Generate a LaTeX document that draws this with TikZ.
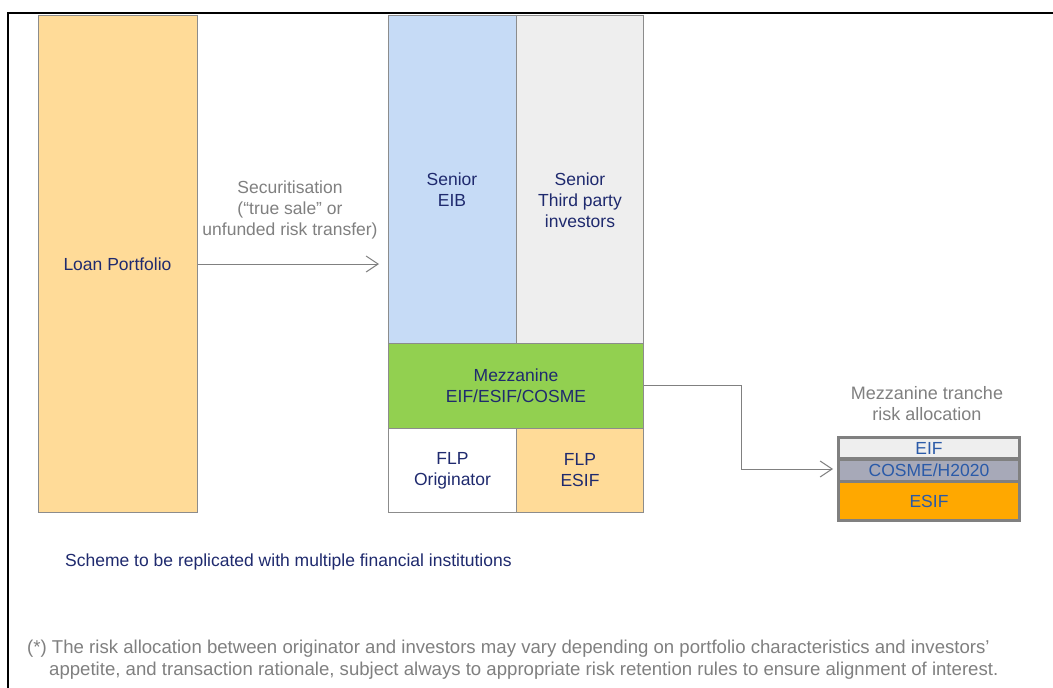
\documentclass[tikz,border=0pt]{standalone}
\usepackage{fontspec}
\setmainfont{Liberation Sans}
\usetikzlibrary{arrows.meta}
\definecolor{loan}{HTML}{FFDB98}
\definecolor{eibblue}{HTML}{C6DBF6}
\definecolor{lgray}{HTML}{EEEEEE}
\definecolor{mezz}{HTML}{92D050}
\definecolor{cosme}{HTML}{A7A9B8}
\definecolor{esif}{HTML}{FFA800}
\definecolor{navy}{HTML}{1F2A6E}
\definecolor{lblue}{HTML}{2A5AA8}
\definecolor{txtgray}{HTML}{808080}
\definecolor{edgegray}{HTML}{8C8C8C}
\tikzset{
  blk/.style={draw=edgegray, line width=1pt, inner sep=0pt, align=center, text=navy, font=\fontsize{17.5}{21}\selectfont},
  lbl/.style={align=center, text=navy, inner sep=0pt, font=\fontsize{17.5}{21}\selectfont},
  glbl/.style={align=center, text=txtgray, inner sep=0pt, font=\fontsize{17.5}{21}\selectfont},
  conn/.style={draw=txtgray, line width=1pt, -{Straight Barb[length=12pt,width=16pt,line width=1pt]}},
  rblk/.style={draw=txtgray, line width=3pt, inner sep=0pt, align=center, text=lblue, font=\fontsize{17.5}{18}\selectfont},
}
\begin{document}
\begin{tikzpicture}[x=1pt,y=-1pt]
\useasboundingbox (0,0) rectangle (1053,688);
\fill[white] (0,0) rectangle (1053,688);
% frame
\draw[black, line width=1.5pt] (8,700) -- (8,13) -- (1060,13);
% loan portfolio
\node[blk, fill=loan, minimum width=159pt, minimum height=497pt, anchor=north west] (loan) at (38,15) {};
\node[lbl] (loant) at (117.5,264) {Loan Portfolio};
% tranches
\node[blk, fill=eibblue, minimum width=128pt, minimum height=328pt, anchor=north west] (seib) at (388,15) {};
\node[lbl] (seibt) at (452,190) {Senior\\EIB};
\node[blk, fill=lgray, minimum width=127pt, minimum height=328pt, anchor=north west] (stp) at (516,15) {};
\node[lbl] (stpt) at (580,200) {Senior\\Third party\\investors};
\node[blk, fill=mezz, minimum width=255pt, minimum height=85pt, anchor=north west] (mezz) at (388,343) {Mezzanine\\EIF/ESIF/COSME};
\node[blk, fill=white, minimum width=128pt, minimum height=84pt, anchor=north west] (flpo) at (388,428) {FLP\\Originator};
\node[blk, fill=loan, minimum width=127pt, minimum height=84pt, anchor=north west] (flpe) at (516,428) {FLP\\ESIF};
% securitisation arrow
\coordinate (aend) at (379,264);
\draw[conn] (loan.east |- aend) -- (aend);
\node[glbl] (sec) at (290,210) {Securitisation\\(“true sale” or\\unfunded risk transfer)};
% right allocation box
\node[rblk, fill=white, minimum width=181pt, minimum height=83pt, anchor=north west] (alloc) at (837,436) {};
\node[rblk, fill=lgray, minimum width=181pt, minimum height=21pt, anchor=north west] (eif) at (837,436) {EIF};
\node[rblk, fill=cosme, minimum width=181pt, minimum height=22pt, anchor=north west] (cos) at (837,458) {COSME/H2020};
\node[rblk, fill=esif, minimum width=181pt, minimum height=39pt, anchor=north west] (esifb) at (837,480) {ESIF};
\node[glbl, font=\fontsize{18}{21}\selectfont] (mtr) at (927,404) {Mezzanine tranche\\risk allocation};
\coordinate (bend) at (741,385);
\coordinate (cend) at (833,469);
\draw[conn] (mezz.east |- bend) -- (bend) -- (bend |- cend) -- (cend);
% scheme text
\node[anchor=west, text=navy, inner sep=0pt, font=\fontsize{17.5}{18}\selectfont] (scheme) at (65,562) {Scheme to be replicated with multiple financial institutions};
% footnote
\node[anchor=north west, align=left, text=txtgray, font=\fontsize{18.6}{22}\selectfont, inner sep=0pt] (foot) at (27,640) {(*) The risk allocation between originator and investors may vary depending on portfolio characteristics and investors’\\\hspace*{22pt}appetite, and transaction rationale, subject always to appropriate risk retention rules to ensure alignment of interest.};
\end{tikzpicture}
\end{document}
